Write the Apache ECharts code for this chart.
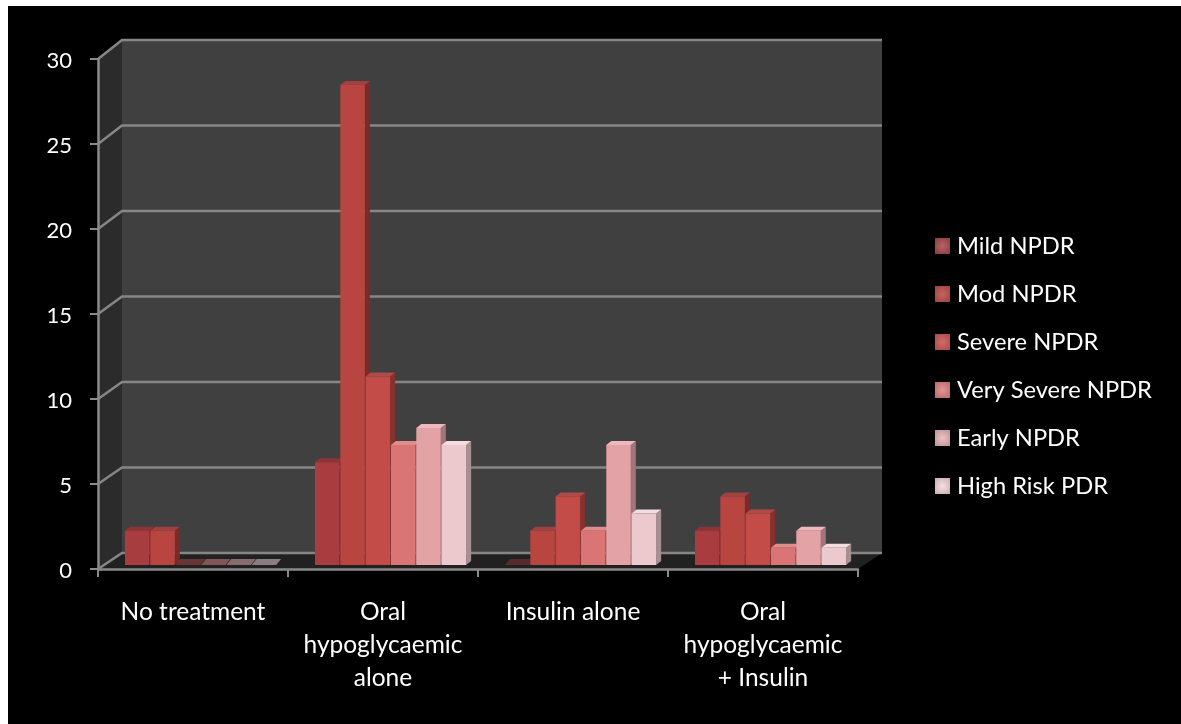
<!DOCTYPE html>
<html>
<head>
<meta charset="utf-8">
<title>NPDR by treatment</title>
<script src="https://cdn.jsdelivr.net/npm/echarts@6/dist/echarts.min.js"></script>
<style>
html, body { margin:0; padding:0; background:#fff; }
#frame { position:absolute; left:8px; top:6px; width:1173px; height:718px; background:#000; }
#main { position:absolute; left:0; top:0; width:1181px; height:724px; filter:blur(0.5px); }
</style>
</head>
<body>
<div id="frame"></div>
<div id="main"></div>
<script>
var categories = ['No treatment', 'Oral\nhypoglycaemic\nalone', 'Insulin alone', 'Oral\nhypoglycaemic\n+ Insulin'];
var yTicks = [0, 5, 10, 15, 20, 25, 30];

var seriesNames = ['Mild NPDR', 'Mod NPDR', 'Severe NPDR', 'Very Severe NPDR', 'Early NPDR', 'High Risk PDR'];
var mild       = [2, 6, 0, 2];
var mod        = [2, 28, 2, 4];
var severe     = [0, 11, 4, 3];
var verySevere = [0, 7, 2, 1];
var early      = [0, 8, 7, 2];
var highRisk   = [0, 7, 3, 1];
var seriesValues = [mild, mod, severe, verySevere, early, highRisk];

var frontColors = ['#a83c3e', '#b8453f', '#c44c48', '#d97675', '#e3a2a6', '#ebc9cc'];
var sideColors  = ['#6e2426', '#7a2a28', '#87302c', '#99504f', '#a3757a', '#a88f92'];
var topColors   = ['#8e3436', '#a04040', '#b04a48', '#e08c8c', '#eeb8bc', '#f5dcdf'];
var legendCenter = ['#b86468', '#c9625f', '#d46a68', '#e59596', '#eec4c4', '#f6e2e4'];
var legendEdge   = ['#8a3c40', '#9c4442', '#a84c4c', '#b86a6c', '#bf9294', '#c9adb2'];

var fontName = 'Lato';
var depthX = 24;

function bandX(api, catIndex, seriesIndex) {
    var band = api.size([1, 0])[0];
    var left = api.coord([catIndex, 0])[0] - band / 2;
    return left + band * 0.142 + seriesIndex * band * 0.1333;
}

function renderBar(seriesIndex) {
    return function (params, api) {
        var cat = api.value(0), v = api.value(1);
        var band = api.size([1, 0])[0];
        var w = band * 0.1333 - 0.8;
        var x = bandX(api, cat, seriesIndex);
        var base = api.coord([cat, 0])[1] - 4;
        var top = api.coord([cat, v])[1] - 4 - v * 0.14;
        var dx = 5, dy = 4;
        if (v === 0) {
            return {
                type: 'polygon',
                shape: { points: [[x, base], [x + w, base], [x + w + dx, base - dy * 1.5], [x + dx, base - dy * 1.5]] },
                style: { fill: topColors[seriesIndex], opacity: 0.5 }
            };
        }
        return {
            type: 'group',
            children: [
                {
                    type: 'polygon',
                    shape: { points: [[x + w, top], [x + w + dx, top - dy], [x + w + dx, base - dy], [x + w, base]] },
                    style: { fill: sideColors[seriesIndex] }
                },
                {
                    type: 'polygon',
                    shape: { points: [[x, top], [x + w, top], [x + w + dx, top - dy], [x + dx, top - dy]] },
                    style: { fill: topColors[seriesIndex] }
                },
                {
                    type: 'rect',
                    shape: { x: x, y: top, width: w, height: base - top },
                    style: { fill: frontColors[seriesIndex] }
                }
            ]
        };
    };
}

// back wall, side wall and floor
function renderWalls(params, api) {
    var c = params.coordSys;
    var x0 = c.x, x1 = c.x + c.width;
    var y0 = api.coord([0, 0])[1], y30 = api.coord([0, 30])[1];
    var b0 = backY(y0, 0), b30 = backY(y30, 30);
    return {
        type: 'group',
        children: [
            { type: 'polygon', shape: { points: [[x0 + depthX, b30], [x1 + depthX, b30], [x1 + depthX, b0], [x0 + depthX, b0]] }, style: { fill: '#404040' } },
            { type: 'polygon', shape: { points: [[x0, y30], [x0 + depthX, b30], [x0 + depthX, b0], [x0, y0]] }, style: { fill: '#2b2b2b' } },
            { type: 'polygon', shape: { points: [[x0, y0], [x0 + depthX, b0], [x1 + depthX, b0], [x1, y0]] }, style: { fill: '#212121' } }
        ]
    };
}

function backY(y, v) {
    return y - 16 - v * 0.1;
}

function renderGridLine(params, api) {
    var c = params.coordSys;
    var v = api.value(1);
    var y = api.coord([0, v])[1];
    var by = backY(y, v);
    return {
        type: 'polyline',
        shape: { points: [[c.x, y], [c.x + depthX, by], [c.x + c.width + depthX, by]] },
        style: { fill: null, stroke: '#868686', lineWidth: 2.5 }
    };
}

var series = [
    { type: 'custom', z: 1, silent: true, renderItem: renderWalls, data: [[0, 0]], encode: { x: 0, y: 1 } },
    {
        type: 'custom', z: 2, silent: true, renderItem: renderGridLine,
        data: yTicks.map(function (t) { return [0, t]; }), encode: { x: 0, y: 1 }
    }
];

seriesValues.forEach(function (values, s) {
    series.push({
        name: seriesNames[s],
        type: 'custom',
        z: 3,
        renderItem: renderBar(s),
        encode: { x: 0, y: 1 },
        itemStyle: {
            color: {
                type: 'radial', x: 0.5, y: 0.5, r: 0.7,
                colorStops: [{ offset: 0, color: legendCenter[s] }, { offset: 1, color: legendEdge[s] }]
            }
        },
        data: values.map(function (v, i) { return [i, v]; })
    });
});

var chart = echarts.init(document.getElementById('main'));
chart.setOption({
    animation: false,
    backgroundColor: 'transparent',
    textStyle: { fontFamily: fontName },
    grid: { left: 98, top: 59, width: 760, height: 510, containLabel: false },
    legend: {
        orient: 'vertical',
        left: 930,
        top: 229,
        data: seriesNames,
        icon: 'rect',
        itemWidth: 15,
        itemHeight: 16,
        itemGap: 24,
        selectedMode: false,
        textStyle: { color: '#fff', fontSize: 23.7, fontFamily: fontName, padding: [0, 0, 0, 2] }
    },
    xAxis: {
        type: 'category',
        z: 5,
        data: categories,
        axisLine: { lineStyle: { color: '#8a8a8a', width: 2.5 } },
        axisTick: { show: true, alignWithLabel: false, length: 8, lineStyle: { color: '#8a8a8a', width: 2 } },
        axisLabel: { color: '#fff', fontSize: 24.5, fontFamily: fontName, lineHeight: 32.7, margin: 27, interval: 0 }
    },
    yAxis: {
        type: 'value',
        z: 5,
        min: 0,
        max: 30,
        interval: 5,
        splitLine: { show: false },
        axisLine: { show: true, lineStyle: { color: '#8a8a8a', width: 2.5 } },
        axisTick: { show: true, length: 8, lineStyle: { color: '#8a8a8a', width: 2 } },
        axisLabel: { color: '#fff', fontSize: 22, fontFamily: fontName, margin: 26, verticalAlign: 'top', lineHeight: 4 }
    },
    series: series
});
</script>
</body>
</html>
